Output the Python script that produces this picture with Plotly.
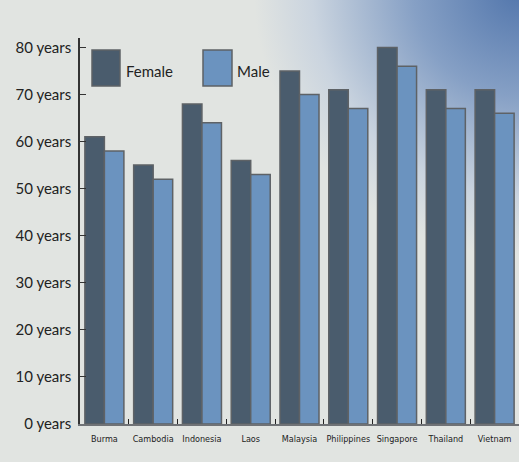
import base64
import plotly.graph_objects as go

# Life expectancy at birth, Southeast Asia
countries = ["Burma", "Cambodia", "Indonesia", "Laos", "Malaysia",
             "Philippines", "Singapore", "Thailand", "Vietnam"]
female = [61, 55, 68, 56, 75, 71, 80, 71, 71]
male = [58, 52, 64, 53, 70, 67, 76, 67, 66]
tick_values = [0, 10, 20, 30, 40, 50, 60, 70, 80]
tick_labels = [f"{v} years" for v in tick_values]

FEMALE_COLOR = "#4a5c6d"
MALE_COLOR = "#6b93bf"
EDGE_COLOR = "#5e6266"
BG = "#e1e4e1"

W, H = 519, 462
ML, MR, MT, MB = 80, 0, 38, 38
PW, PH = W - ML - MR, H - MT - MB

# Soft blue glow coming in from the top-right corner
svg = f"""<svg xmlns='http://www.w3.org/2000/svg' width='{W}' height='{H}'>
<defs><radialGradient id='g' cx='{W}' cy='-10' r='265' gradientUnits='userSpaceOnUse'>
<stop offset='0' stop-color='#5276ac'/>
<stop offset='0.4' stop-color='#86a0c5'/>
<stop offset='0.78' stop-color='#cad4df'/>
<stop offset='1' stop-color='{BG}'/>
</radialGradient></defs>
<rect width='{W}' height='{H}' fill='{BG}'/>
<rect width='{W}' height='{H}' fill='url(#g)'/>
</svg>"""
bg_uri = "data:image/svg+xml;base64," + base64.b64encode(svg.encode()).decode()

fig = go.Figure()
fig.add_bar(x=countries, y=female, name="Female",
            marker=dict(color=FEMALE_COLOR, line=dict(color=EDGE_COLOR, width=1.5)))
fig.add_bar(x=countries, y=male, name="Male",
            marker=dict(color=MALE_COLOR, line=dict(color=EDGE_COLOR, width=1.5)))

font_main = "Lato, 'Open Sans', sans-serif"

# Legend drawn as boxes with labels inside the plot area
def px_x(v):
    return (v - ML) / PW

def px_y(v):
    return 1 - (v - MT) / PH

shapes = []
annotations = []
for (x0, x1, label, lx, color) in [(92, 120, "Female", 124, FEMALE_COLOR),
                                   (203, 232, "Male", 235, MALE_COLOR)]:
    shapes.append(dict(type="rect", xref="paper", yref="paper",
                       x0=px_x(x0), x1=px_x(x1), y0=px_y(86), y1=px_y(50),
                       fillcolor=color, line=dict(color=EDGE_COLOR, width=1.5)))
    annotations.append(dict(xref="paper", yref="paper", x=px_x(lx), y=px_y(71),
                            text=label, showarrow=False, xanchor="left", yanchor="middle",
                            font=dict(family=font_main, size=15, color="#222")))

fig.update_layout(
    width=W, height=H,
    margin=dict(l=ML, r=MR, t=MT, b=MB, pad=0),
    paper_bgcolor=BG,
    plot_bgcolor="rgba(0,0,0,0)",
    showlegend=False,
    barmode="group",
    bargap=0.2,
    bargroupgap=0,
    images=[dict(source=bg_uri, xref="paper", yref="paper",
                 x=-ML / PW, y=1 + MT / PH, sizex=W / PW, sizey=H / PH,
                 xanchor="left", yanchor="top", sizing="stretch", layer="below")],
    shapes=shapes,
    annotations=annotations,
    xaxis=dict(
        showgrid=False, showline=True, linecolor="#6f7276", linewidth=1.5,
        ticks="inside", tickson="boundaries", ticklen=5, tickcolor="#222",
        tickangle=0, ticklabelstandoff=5,
        tickfont=dict(family="'DejaVu Sans Condensed', 'Liberation Sans', sans-serif",
                      size=9, color="#222"),
        zeroline=False,
    ),
    yaxis=dict(
        range=[0, 82], tickvals=tick_values, ticktext=tick_labels,
        showgrid=False, showline=True, linecolor="#333", linewidth=1.5,
        ticks="inside", ticklen=6, tickcolor="#333", ticklabelstandoff=4,
        tickfont=dict(family=font_main, size=15, color="#222"),
        zeroline=False,
    ),
)

fig.write_html("out.html")
